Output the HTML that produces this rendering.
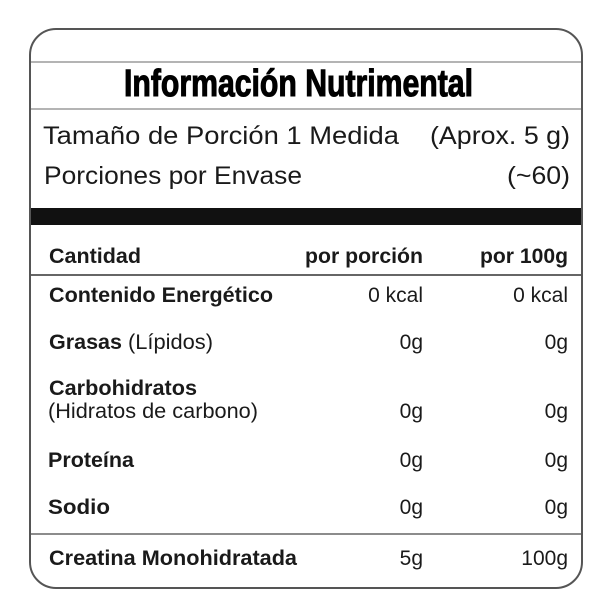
<!DOCTYPE html>
<html>
<head>
<meta charset="utf-8">
<style>
  html,body{margin:0;padding:0;background:#fff;}
  svg{display:block;}
  text{font-family:"Liberation Sans", Arial, sans-serif; fill:#1a1a1a;}
  .b{font-weight:bold;}
</style>
</head>
<body>
<svg width="612" height="612" viewBox="0 0 612 612" xmlns="http://www.w3.org/2000/svg">
  <rect x="0" y="0" width="612" height="612" fill="#fff"/>
  <!-- outer rounded border -->
  <rect x="30" y="29" width="552" height="559" rx="26" ry="26" fill="none" stroke="#555" stroke-width="2"/>

  <!-- title lines -->
  <line x1="31" y1="62" x2="581" y2="62" stroke="#888" stroke-width="1.3"/>
  <line x1="31" y1="109" x2="581" y2="109" stroke="#888" stroke-width="1.3"/>

  <!-- title -->
  <text x="124" y="96" class="b" font-size="38" textLength="349" lengthAdjust="spacingAndGlyphs" style="fill:#000;stroke:#000;stroke-width:1.1">Información Nutrimental</text>

  <!-- serving info -->
  <text x="43" y="144" font-size="25" textLength="356" lengthAdjust="spacingAndGlyphs">Tamaño de Porción 1 Medida</text>
  <text x="430" y="144" font-size="25" textLength="140" lengthAdjust="spacingAndGlyphs">(Aprox. 5 g)</text>
  <text x="44" y="184" font-size="25" textLength="258" lengthAdjust="spacingAndGlyphs">Porciones por Envase</text>
  <text x="507" y="184" font-size="25" textLength="63" lengthAdjust="spacingAndGlyphs">(~60)</text>

  <!-- black bar -->
  <rect x="31" y="208" width="550" height="17" fill="#111"/>

  <!-- header -->
  <text x="49" y="263" class="b" font-size="21" textLength="92" lengthAdjust="spacingAndGlyphs">Cantidad</text>
  <text x="305" y="263" class="b" font-size="21" textLength="118" lengthAdjust="spacingAndGlyphs">por porción</text>
  <text x="480" y="263" class="b" font-size="21" textLength="88" lengthAdjust="spacingAndGlyphs">por 100g</text>
  <line x1="31" y1="275" x2="581" y2="275" stroke="#333" stroke-width="1.6"/>

  <!-- rows -->
  <text x="49" y="302" class="b" font-size="21" textLength="224" lengthAdjust="spacingAndGlyphs">Contenido Energético</text>
  <text x="423" y="302" font-size="21" text-anchor="end">0 kcal</text>
  <text x="568" y="302" font-size="21" text-anchor="end">0 kcal</text>

  <text x="49" y="349" class="b" font-size="21" textLength="73" lengthAdjust="spacingAndGlyphs">Grasas</text>
  <text x="128" y="349" font-size="21" textLength="85" lengthAdjust="spacingAndGlyphs">(Lípidos)</text>
  <text x="423" y="349" font-size="21" text-anchor="end">0g</text>
  <text x="568" y="349" font-size="21" text-anchor="end">0g</text>

  <text x="49" y="395" class="b" font-size="21" textLength="148" lengthAdjust="spacingAndGlyphs">Carbohidratos</text>
  <text x="48" y="418" font-size="21" textLength="210" lengthAdjust="spacingAndGlyphs">(Hidratos de carbono)</text>
  <text x="423" y="418" font-size="21" text-anchor="end">0g</text>
  <text x="568" y="418" font-size="21" text-anchor="end">0g</text>

  <text x="48" y="467" class="b" font-size="21" textLength="86" lengthAdjust="spacingAndGlyphs">Proteína</text>
  <text x="423" y="467" font-size="21" text-anchor="end">0g</text>
  <text x="568" y="467" font-size="21" text-anchor="end">0g</text>

  <text x="48" y="514" class="b" font-size="21" textLength="62" lengthAdjust="spacingAndGlyphs">Sodio</text>
  <text x="423" y="514" font-size="21" text-anchor="end">0g</text>
  <text x="568" y="514" font-size="21" text-anchor="end">0g</text>

  <line x1="31" y1="534" x2="581" y2="534" stroke="#666" stroke-width="1.4"/>

  <text x="49" y="565" class="b" font-size="21" textLength="248" lengthAdjust="spacingAndGlyphs">Creatina Monohidratada</text>
  <text x="423" y="565" font-size="21" text-anchor="end">5g</text>
  <text x="568" y="565" font-size="21" text-anchor="end">100g</text>
</svg>
</body>
</html>
